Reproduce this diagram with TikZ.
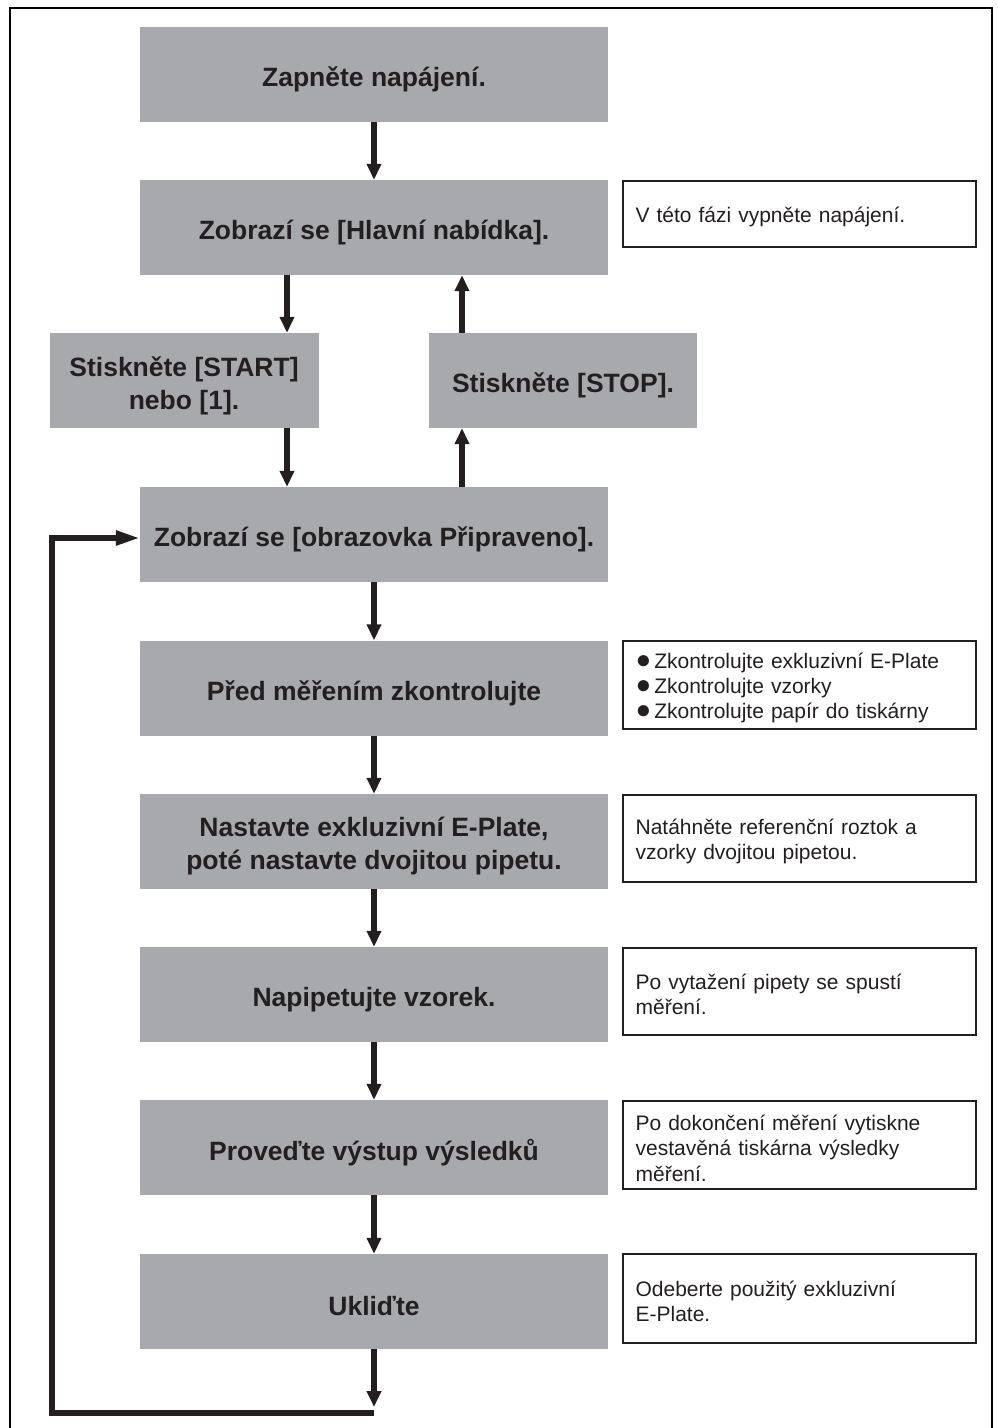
\documentclass[tikz,border=0pt]{standalone}
\usepackage{fontspec}
\setmainfont{Liberation Sans}
\usetikzlibrary{arrows.meta}
\definecolor{boxgray}{HTML}{A7A9AC}
\definecolor{ink}{HTML}{231F20}
\newcommand{\blt}{{\fontsize{26}{26}\selectfont ●}\hspace{3pt}}
\begin{document}
\begin{tikzpicture}[x=1pt,y=-1pt,
  graybox/.style={rectangle, fill=boxgray, draw=none, inner sep=0pt,
    minimum width=468pt, minimum height=95pt},
  gtext/.style={inner sep=0pt, align=center, text=ink,
    font=\bfseries\fontsize{26.5}{33}\selectfont},
  notebox/.style={rectangle, draw=ink, line width=1.2pt, fill=white,
    minimum width=353pt, inner sep=0pt},
  ntext/.style={anchor=west, inner sep=0pt, text width=327pt, align=left, text=ink,
    font=\fontsize{21}{25.5}\selectfont},
  arr/.style={draw=ink, line width=5.5pt, -{Triangle[width=14pt,length=16pt]}},
  loopline/.style={draw=ink, line width=5.5pt, line join=miter},
  frameline/.style={draw=black, line width=2.5pt}]
\useasboundingbox (0,0) rectangle (997,1428);
% frame
\coordinate (fbl) at (10,1430);
\coordinate (ftl) at (10,8);
\coordinate (ftr) at (992,8);
\coordinate (fbr) at (992,1430);
\draw[frameline] (fbl) -- (ftl) -- (ftr) -- (fbr);
% gray boxes
\node[graybox] (b1) at (374,74.5) {};
\node[graybox] (b2) at (374,227.5) {};
\node[graybox, minimum width=269pt] (b3) at (184,380.5) {};
\node[graybox, minimum width=268pt] (b4) at (563,380.5) {};
\node[graybox] (b5) at (374,534.5) {};
\node[graybox] (b6) at (374,688) {};
\node[graybox] (b7) at (374,841.5) {};
\node[graybox] (b8) at (374,994.5) {};
\node[graybox] (b9) at (374,1147.5) {};
\node[graybox] (b10) at (374,1301.5) {};
\node[gtext] (t1) at ([yshift=-5pt]b1.center) {Zapněte napájení.};
\node[gtext] (t2) at ([yshift=-5pt]b2.center) {Zobrazí se [Hlavní nabídka].};
\node[gtext] (t3) at ([yshift=-5pt]b3.center) {Stiskněte [START]\\nebo [1].};
\node[gtext] (t4) at ([yshift=-5pt]b4.center) {Stiskněte [STOP].};
\node[gtext] (t5) at ([yshift=-5pt]b5.center) {Zobrazí se [obrazovka Připraveno].};
\node[gtext] (t6) at ([yshift=-5pt]b6.center) {Před měřením zkontrolujte};
\node[gtext] (t7) at ([yshift=-5pt]b7.center) {Nastavte exkluzivní E-Plate,\\poté nastavte dvojitou pipetu.};
\node[gtext] (t8) at ([yshift=-5pt]b8.center) {Napipetujte vzorek.};
\node[gtext] (t9) at ([yshift=-5pt]b9.center) {Proveďte výstup výsledků};
\node[gtext] (t10) at ([yshift=-5pt]b10.center) {Ukliďte};
% note boxes
\node[notebox, minimum height=66pt] (n2) at (799.5,214) {};
\node[notebox, minimum height=88pt] (n6) at (799.5,685) {};
\node[notebox, minimum height=87pt] (n7) at (799.5,838.5) {};
\node[notebox, minimum height=87pt] (n8) at (799.5,991.5) {};
\node[notebox, minimum height=88pt] (n9) at (799.5,1145) {};
\node[notebox, minimum height=89pt] (n10) at (799.5,1298.5) {};
\node[ntext] (m2) at ([xshift=13pt,yshift=-3pt]n2.west) {V této fázi vypněte napájení.};
\node[ntext, font=\fontsize{21}{25}\selectfont] (m6) at ([xshift=13pt,yshift=-3pt]n6.west) {\blt Zkontrolujte exkluzivní E-Plate\\\blt Zkontrolujte vzorky\\\blt Zkontrolujte papír do tiskárny};
\node[ntext] (m7) at ([xshift=13pt,yshift=-3pt]n7.west) {Natáhněte referenční roztok a\\vzorky dvojitou pipetou.};
\node[ntext] (m8) at ([xshift=13pt,yshift=-3pt]n8.west) {Po vytažení pipety se spustí\\měření.};
\node[ntext] (m9) at ([xshift=13pt,yshift=-3pt]n9.west) {Po dokončení měření vytiskne\\vestavěná tiskárna výsledky\\měření.};
\node[ntext] (m10) at ([xshift=13pt,yshift=-3pt]n10.west) {Odeberte použitý exkluzivní\\E-Plate.};
% helper coordinates
\coordinate (xl) at (287,0);
\coordinate (xr) at (462,0);
% arrows
\draw[arr] (b1.south) -- (b2.north);
\draw[arr] (b2.south -| xl) -- (b3.north -| xl);
\draw[arr] (b3.south -| xl) -- (b5.north -| xl);
\draw[arr] (b5.north -| xr) -- (b4.south -| xr);
\draw[arr] (b4.north -| xr) -- (b2.south -| xr);
\draw[arr] (b6.north |- b5.south) -- (b6.north);
\draw[arr] (b6.south) -- (b7.north);
\draw[arr] (b7.south) -- (b8.north);
\draw[arr] (b8.south) -- (b9.north);
\draw[arr] (b9.south) -- (b10.north);
% loop back
\coordinate (le) at (374,1407);
\coordinate (lb) at (374,1413);
\coordinate (ll) at (52,1413);
\coordinate (lt) at (52,538);
\draw[arr] (b10.south) -- (le);
\draw[loopline] (lb) -- (ll) -- (lt);
\draw[arr, -{Triangle[width=14pt,length=24pt]}] ([xshift=-2.75pt]lt) -- (lt -| b5.west);
\end{tikzpicture}
\end{document}
